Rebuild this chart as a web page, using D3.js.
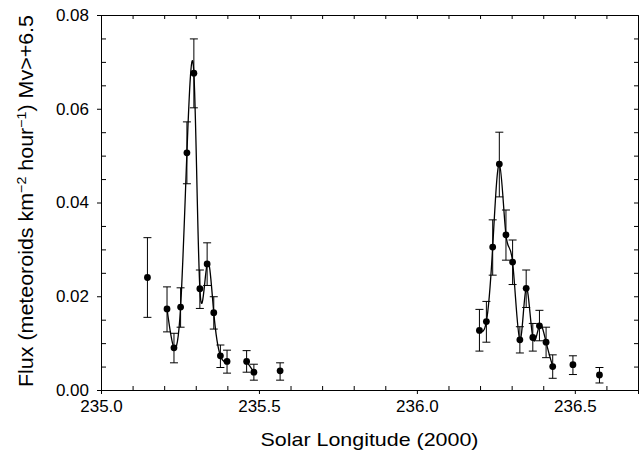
<!DOCTYPE html>
<html>
<head>
<meta charset="utf-8">
<script src="https://cdn.jsdelivr.net/npm/d3@7"></script>
<style>
  body { margin: 0; background: #fff; }
  svg { display: block; }
  text { font-family: "Liberation Sans", Arial, sans-serif; fill: #000; }
</style>
</head>
<body>
<div id="chart"></div>
<script>
// solar longitude (J2000) of each bin, flux and its error range
var solarLon = [235.147, 235.209, 235.231, 235.252, 235.272, 235.294, 235.313, 235.336,
                235.357, 235.378, 235.399, 235.461, 235.484, 235.567,
                236.198, 236.220, 236.240, 236.261, 236.282, 236.303, 236.326, 236.346,
                236.367, 236.388, 236.409, 236.430, 236.494, 236.578];
var flux     = [0.0240, 0.0173, 0.0090, 0.0177, 0.0506, 0.0676, 0.0216, 0.0269,
                0.0165, 0.0073, 0.0061, 0.0061, 0.0038, 0.0041,
                0.0127, 0.0146, 0.0305, 0.0482, 0.0331, 0.0273, 0.0107, 0.0217,
                0.0112, 0.0137, 0.0102, 0.0050, 0.0054, 0.0032];
var fluxLow  = [0.0155, 0.0124, 0.0058, 0.0134, 0.0440, 0.0602, 0.0174, 0.0223,
                0.0130, 0.0048, 0.0036, 0.0038, 0.0021, 0.0021,
                0.0083, 0.0102, 0.0245, 0.0412, 0.0277, 0.0225, 0.0079, 0.0176,
                0.0083, 0.0105, 0.0069, 0.0025, 0.0033, 0.0015];
var fluxHigh = [0.0325, 0.0220, 0.0121, 0.0218, 0.0572, 0.0749, 0.0256, 0.0314,
                0.0199, 0.0096, 0.0085, 0.0084, 0.0055, 0.0058,
                0.0172, 0.0189, 0.0363, 0.0550, 0.0384, 0.0320, 0.0135, 0.0256,
                0.0142, 0.0170, 0.0134, 0.0075, 0.0073, 0.0048];

// index ranges (first, last) of the points joined by the smooth curve
var fitSegments = [[1, 10], [11, 12], [14, 25]];

var xDomain = [235.0, 236.7];
var yDomain = [0, 0.08];
var xTickLabels = [235.0, 235.5, 236.0, 236.5];
var yTickLabels = [0.00, 0.02, 0.04, 0.06, 0.08];

var width = 644, height = 451;
var margin = {left: 101, right: 6, top: 15, bottom: 61};

var svg = d3.select('#chart').append('svg')
    .attr('width', width)
    .attr('height', height);

var x = d3.scaleLinear().domain(xDomain).range([margin.left, width - margin.right]);
var y = d3.scaleLinear().domain(yDomain).range([height - margin.bottom, margin.top]);

var xMinor = d3.range(0, 17).map(function(i){ return 235 + i * 0.1; })
    .filter(function(v){ return Math.abs(v * 2 - Math.round(v * 2)) > 1e-6; });
var yMinor = d3.range(0, 17).map(function(i){ return i * 0.005; })
    .filter(function(v){ return Math.abs(v / 0.02 - Math.round(v / 0.02)) > 1e-6; });

// ========= axes ============
var gx = svg.append('g')
    .attr('transform', 'translate(0,' + y(0) + ')')
    .call(d3.axisBottom(x).tickValues(xTickLabels).tickFormat(d3.format('.1f')).tickSize(4).tickPadding(6));
gx.append('g').call(d3.axisTop(x).tickValues(xMinor).tickFormat('').tickSize(4));

var gy = svg.append('g')
    .attr('transform', 'translate(' + x(235) + ',0)')
    .call(d3.axisLeft(y).tickValues(yTickLabels).tickFormat(d3.format('.2f')).tickSize(4).tickPadding(8));
gy.append('g').call(d3.axisRight(y).tickValues(yMinor).tickFormat('').tickSize(5));

var gt = svg.append('g')
    .attr('transform', 'translate(0,' + y(0.08) + ')')
    .call(d3.axisBottom(x).tickValues(xTickLabels.concat(xMinor)).tickFormat('').tickSize(4));

var gr = svg.append('g')
    .attr('transform', 'translate(' + x(236.7) + ',0)')
    .call(d3.axisLeft(y).tickValues(yTickLabels.concat(yMinor)).tickFormat('').tickSize(4));

svg.selectAll('.domain').attr('stroke', '#000');
svg.selectAll('.tick line').attr('stroke', '#000');
svg.selectAll('.tick text').style('font-size', '17px').attr('fill', '#000');

// axis titles
svg.append('text')
    .attr('x', x(235.85))
    .attr('y', 445.5)
    .attr('text-anchor', 'middle')
    .attr('textLength', 218)
    .attr('lengthAdjust', 'spacingAndGlyphs')
    .style('font-size', '19px')
    .text('Solar Longitude (2000)');

var yt = svg.append('text')
    .attr('transform', 'translate(33,' + 201 + ') rotate(-90)')
    .attr('text-anchor', 'middle')
    .attr('textLength', 372)
    .attr('lengthAdjust', 'spacingAndGlyphs')
    .style('font-size', '19.5px');
yt.append('tspan').text('Flux (meteoroids km');
yt.append('tspan').attr('dy', -7).style('font-size', '13px').text('\u22122');
yt.append('tspan').attr('dy', 7).text(' hour');
yt.append('tspan').attr('dy', -7).style('font-size', '13px').text('\u22121');
yt.append('tspan').attr('dy', 7).text(') Mv>+6.5');

// ========= data ============
var pts = solarLon.map(function(d, i){
    return {sl: d, f: flux[i], lo: fluxLow[i], hi: fluxHigh[i]};
});

var fitLine = d3.line()
    .x(function(d){ return x(d.sl); })
    .y(function(d){ return y(d.f); })
    .curve(d3.curveNatural);

svg.append('g').selectAll('path')
    .data(fitSegments)
    .enter().append('path')
    .attr('d', function(s){ return fitLine(pts.slice(s[0], s[1] + 1)); })
    .attr('fill', 'none')
    .attr('stroke', '#000')
    .attr('stroke-width', 1.3);

var cap = 4;
var eb = svg.append('g').attr('stroke', '#000').attr('stroke-width', 1);
eb.selectAll('.bar').data(pts).enter().append('line')
    .attr('x1', function(d){ return x(d.sl); })
    .attr('x2', function(d){ return x(d.sl); })
    .attr('y1', function(d){ return y(d.lo); })
    .attr('y2', function(d){ return y(d.hi); });
eb.selectAll('.capHi').data(pts).enter().append('line')
    .attr('x1', function(d){ return x(d.sl) - cap; })
    .attr('x2', function(d){ return x(d.sl) + cap; })
    .attr('y1', function(d){ return y(d.hi); })
    .attr('y2', function(d){ return y(d.hi); });
eb.selectAll('.capLo').data(pts).enter().append('line')
    .attr('x1', function(d){ return x(d.sl) - cap; })
    .attr('x2', function(d){ return x(d.sl) + cap; })
    .attr('y1', function(d){ return y(d.lo); })
    .attr('y2', function(d){ return y(d.lo); });

svg.append('g').selectAll('circle')
    .data(pts)
    .enter().append('circle')
    .attr('cx', function(d){ return x(d.sl); })
    .attr('cy', function(d){ return y(d.f); })
    .attr('r', 3.4)
    .attr('fill', '#000');
</script>
</body>
</html>
